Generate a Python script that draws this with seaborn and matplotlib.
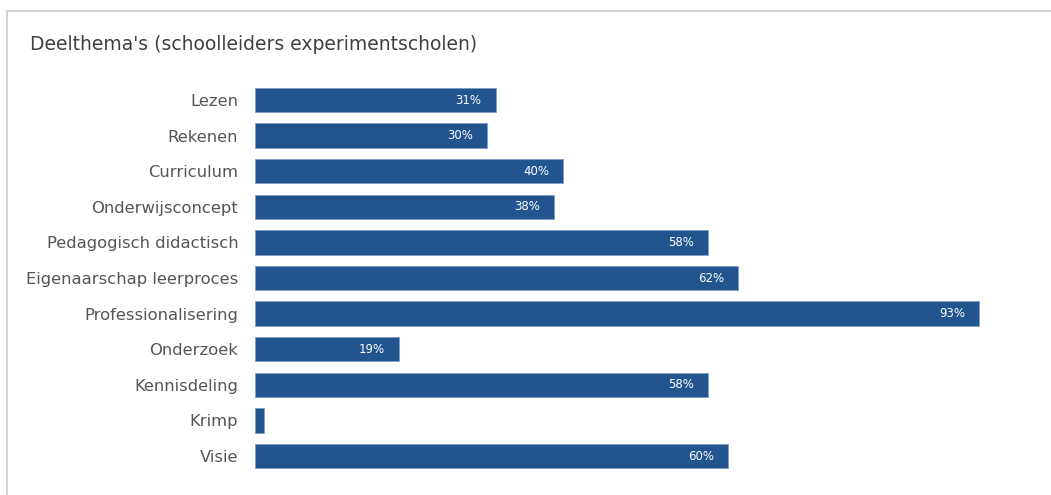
import seaborn as sns
import matplotlib.pyplot as plt
from matplotlib.patches import Rectangle

themes = ['Lezen', 'Rekenen', 'Curriculum', 'Onderwijsconcept', 'Pedagogisch didactisch',
          'Eigenaarschap leerproces', 'Professionalisering', 'Onderzoek', 'Kennisdeling',
          'Krimp', 'Visie']
percentages = [30.9, 29.8, 39.6, 38.4, 58.2, 62.0, 93.0, 18.5, 58.2, 1.2, 60.7]
value_labels = ['31%', '30%', '40%', '38%', '58%', '62%', '93%', '19%', '58%', '', '60%']

sns.set_theme(style='white')
plt.rcParams['font.family'] = ['DejaVu Sans']

fig = plt.figure(figsize=(10.51, 4.95), dpi=100)
ax = fig.add_axes([255 / 1051, 1 - 473.8 / 495, (1033.5 - 255) / 1051, (473.8 - 82.2) / 495])

sns.barplot(x=percentages, y=themes, orient='h', color='#22558f', saturation=1,
            width=0.68, edgecolor='#7f9cc4', linewidth=0.6, ax=ax)

# value labels inside the bar ends
for i, (v, lab) in enumerate(zip(percentages, value_labels)):
    ax.annotate(lab, xy=(v, i), xytext=(-10, 0), textcoords='offset points',
                ha='right', va='center', color='white', fontsize=8.5)

ax.set_xlim(0, 100)
ax.set_ylim(10.5, -0.5)
ax.set_xticks([])
ax.set_xlabel('')
ax.set_ylabel('')
ax.tick_params(axis='y', length=0, pad=12, labelsize=11.8, labelcolor='#555555')
for s in ax.spines.values():
    s.set_visible(False)

# light frame on the left and top of the figure
fig.patches.append(Rectangle((7 / 1051, -0.1), 1.2, 1 - 11 / 495 + 0.1, transform=fig.transFigure,
                             fill=False, edgecolor='#cccccc', linewidth=1.2))

fig.text(30 / 1051, 1 - 44 / 495, "Deelthema's (schoolleiders experimentscholen)",
         fontsize=13.5, color='#404040', va='center', ha='left')

fig.savefig('out.png', dpi=100)
